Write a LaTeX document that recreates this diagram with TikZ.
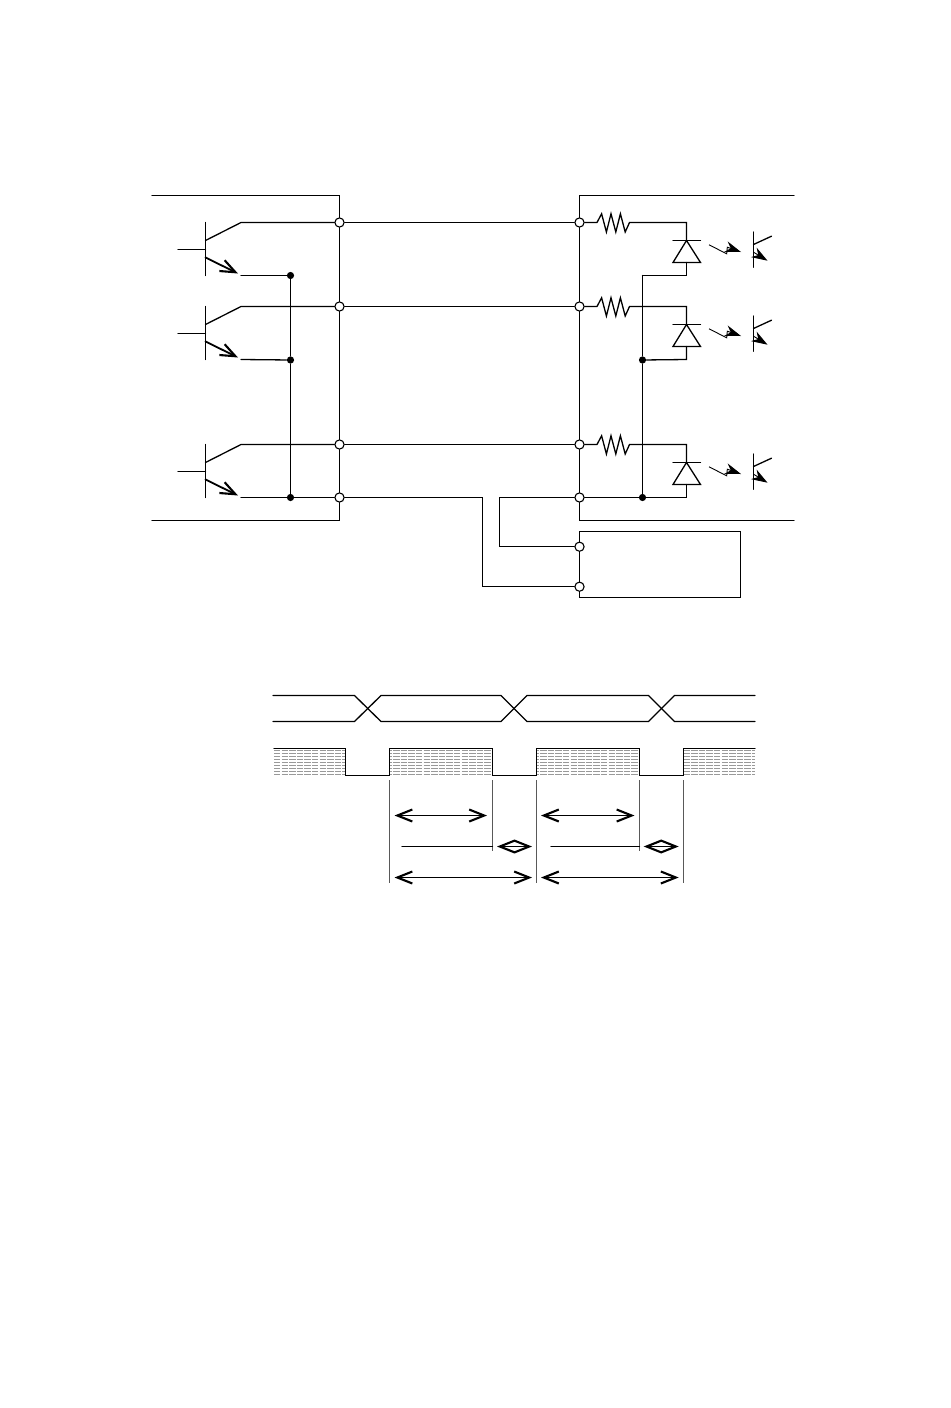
\documentclass[tikz,border=0pt]{standalone}
\usetikzlibrary{arrows.meta}
\tikzset{
	wire/.style={line width=0.65pt, line cap=round, line join=miter},
	thinwire/.style={line width=0.6pt, color=black!65},
	term/.style={circle, draw, fill=white, line width=0.55pt, inner sep=0pt, minimum size=4.6pt},
	jdot/.style={circle, fill=black, inner sep=0pt, minimum size=3.6pt},
	barb/.style={wire, line width=0.9pt, -{Straight Barb[length=7.5pt, width=6pt, line width=1.05pt]}},
	dbarb/.style={wire, line width=0.9pt, {Straight Barb[length=7.5pt, width=6pt, line width=1.05pt]}-{Straight Barb[length=7.5pt, width=6pt, line width=1.05pt]}},
	lightarrow/.style={line width=0.45pt, -{Stealth[length=8pt, width=5.5pt]}},
	stipple/.style={line width=0.4pt, color=black!40, dash pattern=on 3.2pt off 0.6pt},
}
\def\stipplebox(#1,#2)(#3){\foreach \y in {750.5,753.5,...,775} {\draw[stipple, dash phase=#3] (#1, \y) -- (#2, \y);}}
\begin{document}
\begin{tikzpicture}[x=0.5pt, y=-0.5pt]
		\useasboundingbox (0, 0) rectangle (950, 1408);
		%%%%% circuit %%%%%
		
		% the two outlines
		\draw[wire] (152, 195.5) -- (339.5, 195.5) -- (339.5, 520.5) -- (152, 520.5);
		\draw[wire] (794, 195.5) -- (579.5, 195.5) -- (579.5, 520.5) -- (794, 520.5);
		\draw[wire] (579.5, 531.5) rectangle (740.5, 597.5);
		
		% terminals
		\foreach \n/\y in {a/222.5, b/306.5, c/444.5, g/497.5} {
			\node[term] (left\n) at (339.5, \y) {};
			\node[term] (right\n) at (579.5, \y) {};
		}
		\node[term] (boxa) at (579.5, 546.7) {};
		\node[term] (boxb) at (579.5, 586.7) {};
		
		% junctions
		\node[jdot] (ja) at (290.5, 275.5) {};
		\node[jdot] (jb) at (290.5, 360) {};
		\node[jdot] (jc) at (290.5, 497.5) {};
		\node[jdot] (kb) at (642.5, 360) {};
		\node[jdot] (kc) at (642.5, 497.5) {};
		\coordinate (ka) at (642.5, 275.5);
		
		\draw[wire] (ja) -- (jb) -- (jc);
		\draw[wire] (ka) -- (kb) -- (kc);
		
		\foreach \n/\y in {a/222.5, b/306.5, c/444.5} {
			\draw[wire] (left\n) -- (right\n);
			
			% output transistor
			\draw[wire] (205.5, \y) -- (205.5, \y+53);
			\draw[wire] (178, \y+27) -- (205.5, \y+27);
			\draw[wire] (205.5, \y+18) -- (241, \y) -- (left\n);
			\draw[barb] (205.5, \y+35) -- (238, \y+51);
			\draw[wire] (241, \y+53) -- (j\n);
			
			% resistor and diode
			\draw[wire] (right\n) -- (597, \y) -- (601.6, \y-8.7) -- (606.4, \y+9.5) -- (611, \y-8.7)
				-- (615.8, \y+9.5) -- (620.4, \y-8.7) -- (625.2, \y+9.5) -- (629.5, \y) -- (686.5, \y) -- (686.5, \y+18);
			\draw[wire] (673, \y+18) -- (700.5, \y+18);
			\draw[wire] (686.5, \y+18) -- (700.5, \y+40) -- (673, \y+40) -- cycle;
			\draw[wire] (686.5, \y+40) -- (686.5, \y+53) -- (k\n);
			
			% light and photo transistor
			\draw[lightarrow] (709, \y+22.3) -- (726.7, \y+31.3) -- (727.3, \y+24.7) -- (741, \y+29.5);
			\draw[wire] (753.5, \y+9.5) -- (753.5, \y+44.7);
			\draw[wire] (753.5, \y+22) -- (771.5, \y+13.7);
			\draw[lightarrow] (753.5, \y+29.7) -- (767.5, \y+38.2);
		}
		\draw[wire] (kc) -- (rightg);
		\draw[wire] (jc) -- (leftg);
		
		% wires to the lower box
		\draw[wire] (leftg) -| (482.5, 586.7) -- (boxb);
		\draw[wire] (rightg) -| (499.5, 546.7) -- (boxa);
		
		%%%%% timing %%%%%
		
		\draw[wire] (273, 695.5) -- (354.5, 695.5) -- (381, 721.5) -- (501, 721.5) -- (527, 695.5) -- (648.5, 695.5) -- (674.5, 721.5) -- (755, 721.5);
		\draw[wire] (273, 721.5) -- (354.5, 721.5) -- (381, 695.5) -- (501, 695.5) -- (527, 721.5) -- (648.5, 721.5) -- (674.5, 695.5) -- (755, 695.5);
		
		\stipplebox(274,345)(0pt)
		\stipplebox(389.5,492.5)(2pt)
		\stipplebox(536.5,639.5)(2pt)
		\stipplebox(683.5,755)(0pt)
		\draw[wire] (274, 748.5) -- (345.5, 748.5) -- (345.5, 775.5) -- (389.5, 775.5) -- (389.5, 748.5) -- (492.5, 748.5) -- (492.5, 775.5)
			-- (536.5, 775.5) -- (536.5, 748.5) -- (639.5, 748.5) -- (639.5, 775.5) -- (683.5, 775.5) -- (683.5, 748.5) -- (755, 748.5);
		
		\foreach \x in {389.5, 536.5, 683.5} {
			\draw[thinwire] (\x, 780) -- (\x, 883);
		}
		\foreach \x in {492.5, 639.5} {
			\draw[thinwire] (\x, 780) -- (\x, 851);
		}
		
		\draw[dbarb] (394.5, 815.5) -- (487, 815.5);
		\draw[dbarb] (541, 815.5) -- (634.5, 815.5);
		
		\draw[wire] (402, 846.5) -- (492.5, 846.5);
		\draw[wire] (551, 846.5) -- (639.5, 846.5);
		\draw[dbarb] (497, 846.5) -- (532, 846.5);
		\draw[dbarb] (643.7, 846.5) -- (678.7, 846.5);
		\draw[wire] (500, 846.5) -- (529, 846.5);
		\draw[wire] (646.7, 846.5) -- (675.7, 846.5);
		
		\draw[dbarb] (394.5, 877.5) -- (532, 877.5);
		\draw[dbarb] (541, 877.5) -- (678.7, 877.5);
		
		%%%%% END %%%%%
	\end{tikzpicture}
\end{document}
